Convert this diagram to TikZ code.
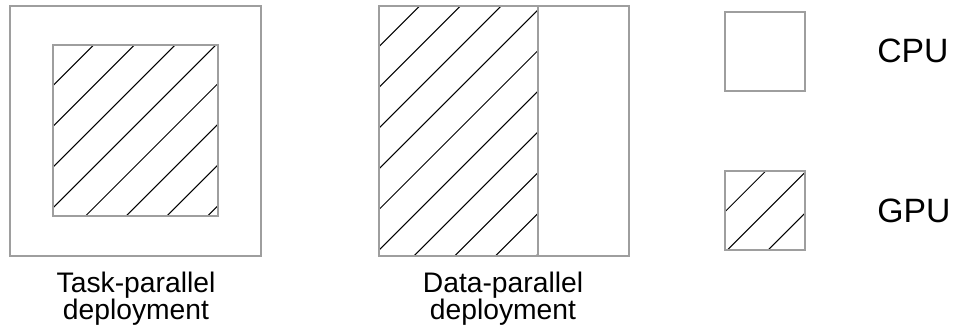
\documentclass[tikz,border=0pt]{standalone}
\usepackage{fontspec}
\setmainfont{Liberation Sans}
\usetikzlibrary{positioning}

\tikzset{
  boxline/.style={draw=black!38, line width=0.3mm},
  hatchline/.style={black, line width=0.25mm},
  caption/.style={align=center, inner sep=0pt, anchor=north, font=\fontsize{20.1}{18.8}\selectfont},
  legendtext/.style={inner sep=0pt, anchor=base west, font=\fontsize{24}{28}\selectfont}
}

\begin{document}
\begin{tikzpicture}[x=0.25mm,y=-0.25mm]
\useasboundingbox (0,0) rectangle (956,333);
% task-parallel: GPU inside CPU
\begin{scope}
\clip (53,45) rectangle (218,216);
\foreach \k in {1,...,8} \draw[hatchline] (53+\k*40.7,45) -- ++(-300,300);
\end{scope}
\draw[boxline] (10,6) rectangle (261,256);
\draw[boxline] (53,45) rectangle (218,216);
\node[caption] (task) at (136,272) {Task-parallel\\deployment};
% data-parallel: GPU beside CPU
\begin{scope}
\clip (379,6) rectangle (538,256);
\foreach \k in {1,...,10} \draw[hatchline] (379+\k*40.7,6) -- ++(-300,300);
\end{scope}
\draw[boxline] (379,6) rectangle (629,256);
\draw[boxline] (538,6) -- (538,256);
\node[caption] (data) at (503,272) {Data-parallel\\deployment};
% legend
\draw[boxline] (725,12) rectangle (805,91);
\begin{scope}
\clip (725,171) rectangle (805,250);
\foreach \k in {1,...,4} \draw[hatchline] (725+\k*40.7,171) -- ++(-200,200);
\end{scope}
\draw[boxline] (725,171) rectangle (805,250);
\node[legendtext] (cpu) at (877,62) {CPU};
\node[legendtext] (gpu) at (877,222) {GPU};
\end{tikzpicture}
\end{document}
